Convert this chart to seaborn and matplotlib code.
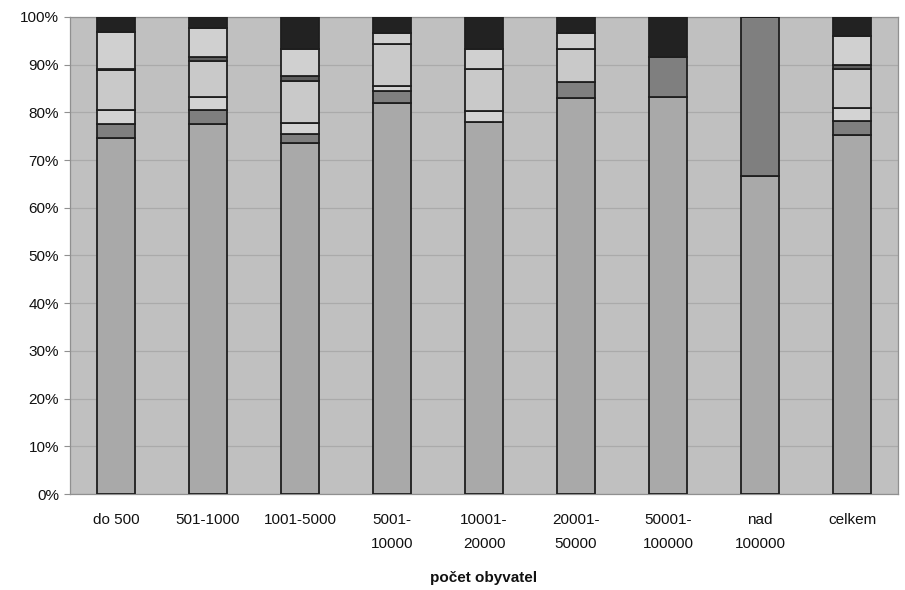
import matplotlib
matplotlib.use("Agg")
import matplotlib.pyplot as plt
import seaborn as sns
import numpy as np
import pandas as pd

categories = ["do 500", "501-1000", "1001-5000", "5001-\n10000", "10001-\n20000",
              "20001-\n50000", "50001-\n100000", "nad\n100000", "celkem"]

s1 = [74.6, 77.6, 73.5, 82.0, 78.0, 83.0, 83.2, 66.7, 75.3]
s2 = [3.0, 2.9, 2.0, 2.5, 0.0, 3.4, 8.4, 33.3, 2.9]
s3 = [2.9, 2.7, 2.3, 1.0, 2.3, 0.0, 0.0, 0.0, 2.7]
s4 = [8.4, 7.6, 8.8, 8.8, 8.8, 6.9, 0.0, 0.0, 8.2]
s5 = [0.3, 0.8, 1.0, 0.0, 0.0, 0.0, 0.0, 0.0, 0.8]
s6 = [7.7, 6.1, 5.7, 2.3, 4.2, 3.3, 0.0, 0.0, 6.1]
s7 = [3.1, 2.3, 6.7, 3.4, 6.7, 3.4, 8.4, 0.0, 4.0]

series = [s1, s2, s3, s4, s5, s6, s7]
colors = ["#a9a9a9", "#7f7f7f", "#d3d3d3", "#c9c9c9", "#5e5e5e", "#d0d0d0", "#222222"]

sns.set_style("white")
plt.rcParams['font.family'] = ['Liberation Sans', 'DejaVu Sans']

fig = plt.figure(figsize=(9.05, 5.9), dpi=100)
ax = fig.add_axes([70/905, 96/590, 828/905, 477/590])
ax.set_facecolor("#c0c0c0")

ax.set_axisbelow(True)
ax.yaxis.grid(True, color="#aaaaaa", linewidth=0.9)

bottom = np.zeros(len(categories))
for vals, col in zip(series, colors):
    df = pd.DataFrame({"cat": categories, "val": vals})
    sns.barplot(data=df, x="cat", y="val", bottom=bottom, color=col,
                edgecolor="#1e1e1e", linewidth=1.3, width=0.42,
                saturation=1, ax=ax, zorder=3)
    bottom = bottom + np.array(vals)

ax.set_xlim(-0.5, len(categories) - 0.5)
ax.set_ylim(0, 100)
ax.set_yticks(np.arange(0, 101, 10))
ax.set_yticklabels([f"{v}%" for v in range(0, 101, 10)], fontsize=11, color="#111111")
ax.tick_params(axis="x", length=0, pad=14, labelsize=11, colors="#111111")
ax.tick_params(axis="y", length=4, width=0.8, color="#909090", pad=4, left=True)
for lbl in ax.get_xticklabels():
    lbl.set_linespacing(1.9)
    lbl.set_verticalalignment("top")

ax.set_xlabel("počet obyvatel", fontsize=11, fontweight="bold", color="#111111", labelpad=14)
ax.set_ylabel("")

for sp in ax.spines.values():
    sp.set_visible(True)
    sp.set_color("#909090")
    sp.set_linewidth(0.9)

fig.savefig("out.png", dpi=100, facecolor="white")
